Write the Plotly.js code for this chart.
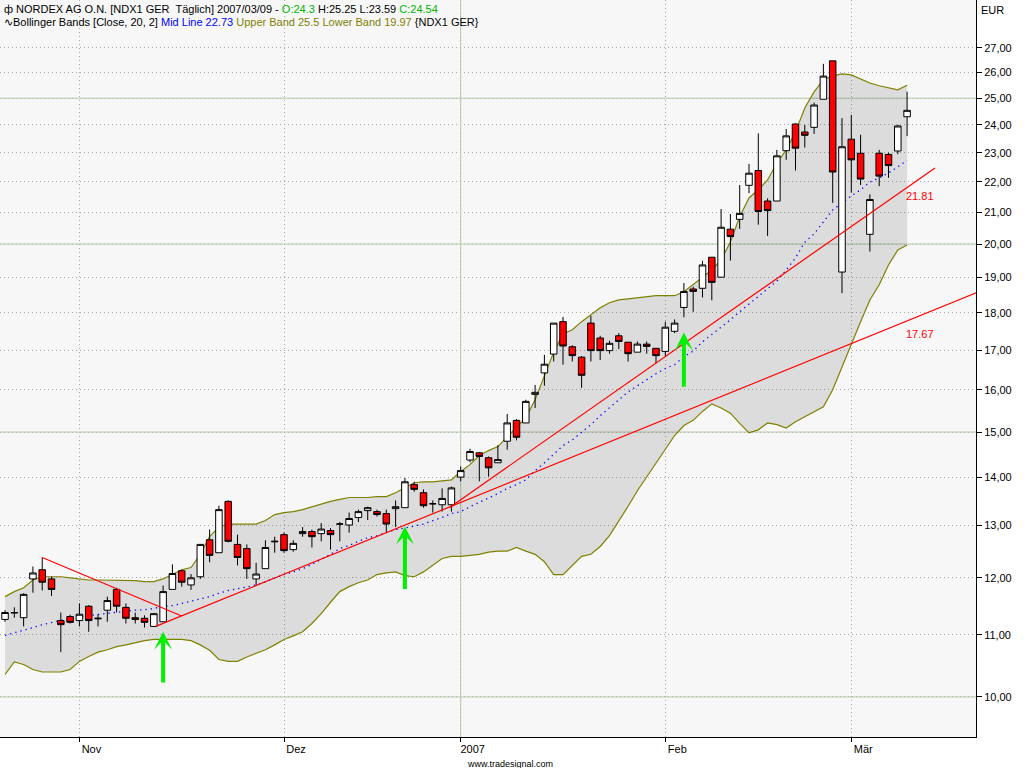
<!DOCTYPE html>
<html><head><meta charset="utf-8">
<script src="https://cdn.plot.ly/plotly-3.0.1.min.js"></script>
<style>html,body{margin:0;padding:0;background:#fff;}#chart{width:1024px;height:768px;}</style>
</head><body><div id="chart"></div>
<script>
const dates = [
'2006-10-20','2006-10-23','2006-10-24','2006-10-25','2006-10-26','2006-10-27','2006-10-30','2006-10-31',
'2006-11-01','2006-11-02','2006-11-03','2006-11-06','2006-11-07','2006-11-08','2006-11-09','2006-11-10',
'2006-11-13','2006-11-14','2006-11-15','2006-11-16','2006-11-17','2006-11-20','2006-11-21','2006-11-22',
'2006-11-23','2006-11-24','2006-11-27','2006-11-28','2006-11-29','2006-11-30',
'2006-12-01','2006-12-04','2006-12-05','2006-12-06','2006-12-07','2006-12-08','2006-12-11','2006-12-12',
'2006-12-13','2006-12-14','2006-12-15','2006-12-18','2006-12-19','2006-12-20','2006-12-21','2006-12-22',
'2006-12-27','2006-12-28','2006-12-29',
'2007-01-02','2007-01-03','2007-01-04','2007-01-05','2007-01-08','2007-01-09','2007-01-10','2007-01-11',
'2007-01-12','2007-01-15','2007-01-16','2007-01-17','2007-01-18','2007-01-19','2007-01-22','2007-01-23',
'2007-01-24','2007-01-25','2007-01-26','2007-01-29','2007-01-30','2007-01-31',
'2007-02-01','2007-02-02','2007-02-05','2007-02-06','2007-02-07','2007-02-08','2007-02-09','2007-02-12',
'2007-02-13','2007-02-14','2007-02-15','2007-02-16','2007-02-19','2007-02-20','2007-02-21','2007-02-22',
'2007-02-23','2007-02-26','2007-02-27','2007-02-28',
'2007-03-01','2007-03-02','2007-03-05','2007-03-06','2007-03-07','2007-03-08','2007-03-09'];

const opens = [11.26,11.37,11.29,11.98,12.15,11.98,11.24,11.31,11.24,11.49,
11.27,11.42,11.79,11.47,11.29,11.28,11.14,11.22,11.79,12.13,
11.87,12.02,12.72,12.47,13.49,12.63,12.55,11.98,12.17,12.68,
12.82,12.53,12.84,12.88,12.84,12.90,13.03,13.01,13.16,13.30,
13.28,13.24,13.34,13.36,13.84,13.67,13.44,13.42,13.42,14.00,
14.37,14.53,14.42,14.31,14.79,15.27,15.21,15.89,16.42,16.90,
17.76,17.09,16.82,17.72,17.32,16.99,17.38,17.21,16.95,17.16,
17.05,16.97,17.50,18.15,18.67,18.69,19.60,19.01,20.46,20.77,
21.88,22.38,21.36,21.36,23.07,24.03,23.74,23.91,24.96,26.47,
19.16,23.48,22.98,20.30,22.98,22.94,23.06,24.3];
const highs = [11.42,11.47,11.72,12.21,12.38,12.02,11.38,11.34,11.54,11.51,
11.35,11.66,11.82,11.54,11.38,11.33,11.37,11.86,12.25,12.15,
12.07,12.63,12.92,13.40,13.51,12.82,12.63,12.28,12.71,12.78,
12.86,12.71,12.97,12.92,13.05,12.95,13.07,13.26,13.32,13.38,
13.32,13.32,13.51,13.98,13.90,13.74,13.51,13.76,13.80,14.23,
14.62,14.55,14.45,14.70,15.42,15.30,15.76,16.12,16.88,17.72,
17.89,17.13,16.85,17.92,17.38,17.25,17.45,17.21,17.23,17.23,
17.05,17.76,17.82,18.84,18.74,19.49,19.60,21.10,20.94,21.89,
22.61,23.69,21.45,23.10,23.85,24.06,24.00,24.83,26.35,26.47,
24.25,24.37,23.64,21.58,23.10,23.00,24.00,25.25];
const lows = [11.22,11.29,11.14,11.73,11.77,11.67,10.71,11.19,11.14,11.05,
11.14,11.22,11.38,11.19,11.19,11.12,11.13,11.22,11.79,11.84,
11.78,11.98,12.29,12.47,12.67,12.23,11.98,11.86,12.17,12.47,
12.47,12.49,12.78,12.57,12.69,12.53,12.69,12.86,13.07,13.11,
13.18,12.86,12.97,13.36,13.69,13.36,13.26,13.28,13.28,13.91,
14.32,13.91,14.01,14.31,14.60,14.81,15.21,15.56,16.10,16.71,
16.63,16.71,16.05,16.71,16.75,16.91,17.03,16.71,16.95,16.91,
16.67,16.84,17.45,17.88,18.03,18.43,18.35,19.01,19.50,20.47,
21.62,20.60,20.25,21.36,22.75,22.38,23.18,23.67,24.96,21.30,
18.55,21.64,21.89,19.77,21.85,22.13,22.95,23.59];
const closes = [11.38,11.38,11.70,12.09,11.92,11.79,11.17,11.21,11.35,11.24,
11.28,11.59,11.49,11.28,11.26,11.21,11.36,11.75,12.08,11.92,
12.00,12.63,12.42,13.32,12.69,12.38,12.17,12.07,12.57,12.69,
12.51,12.65,12.88,12.78,12.93,12.82,13.03,13.14,13.28,13.36,
13.22,13.03,13.38,13.90,13.74,13.40,13.44,13.55,13.77,14.14,
14.56,14.45,14.20,14.38,15.21,14.88,15.72,15.94,16.64,17.72,
17.11,16.86,16.36,16.99,16.99,17.18,17.23,16.91,17.16,17.10,
16.86,17.61,17.72,18.60,18.60,19.37,18.86,20.52,20.23,20.96,
22.29,21.02,21.05,22.89,23.60,23.16,23.62,24.74,25.86,22.33,
23.21,22.75,22.09,21.41,22.19,22.55,23.96,24.54];

const upperBand = [11.66,11.75,11.82,11.96,12.02,12.02,12.02,12.00,11.98,11.96,
11.96,11.96,11.96,11.96,11.95,11.93,11.93,11.98,12.06,12.15,
12.19,12.44,12.78,12.97,13.03,13.03,13.03,13.03,13.10,13.22,
13.26,13.28,13.32,13.38,13.43,13.49,13.53,13.57,13.57,13.57,
13.59,13.59,13.67,13.78,13.88,13.90,13.90,13.92,13.94,14.12,
14.27,14.47,14.58,14.67,14.89,15.09,15.33,15.76,16.37,16.95,
17.43,17.54,17.76,17.94,18.14,18.28,18.36,18.39,18.42,18.45,
18.48,18.48,18.48,18.59,18.79,18.99,19.22,19.52,20.06,20.85,
21.46,21.73,22.06,22.64,23.10,23.74,24.63,25.24,25.71,25.87,
25.95,25.91,25.75,25.59,25.48,25.40,25.32,25.5];
const lowerBand = [10.35,10.55,10.51,10.43,10.39,10.39,10.39,10.43,10.56,10.64,
10.71,10.75,10.80,10.83,10.87,10.90,10.92,10.92,10.92,10.92,
10.90,10.83,10.74,10.59,10.56,10.56,10.63,10.69,10.75,10.83,
10.92,10.98,11.05,11.19,11.36,11.56,11.75,11.84,11.91,11.96,
12.06,12.09,12.11,12.04,12.02,12.11,12.23,12.36,12.40,12.40,
12.42,12.44,12.48,12.50,12.50,12.57,12.50,12.44,12.30,12.06,
12.06,12.23,12.40,12.44,12.59,12.80,13.08,13.39,13.71,14.00,
14.31,14.60,14.92,15.15,15.27,15.48,15.66,15.56,15.44,15.20,
14.98,15.05,15.21,15.17,15.09,15.24,15.36,15.47,15.59,16.00,
16.58,17.14,17.76,18.36,18.79,19.37,19.82,19.97];
const midLine = [10.99,11.03,11.08,11.12,11.17,11.21,11.24,11.28,11.31,11.33,
11.35,11.36,11.38,11.40,11.42,11.43,11.45,11.49,11.50,11.54,
11.58,11.61,11.66,11.72,11.77,11.80,11.84,11.87,11.93,12.00,
12.06,12.11,12.17,12.25,12.34,12.44,12.55,12.61,12.69,12.76,
12.80,12.86,12.92,12.95,12.99,13.03,13.10,13.16,13.24,13.28,
13.38,13.47,13.55,13.65,13.76,13.84,13.94,14.14,14.31,14.49,
14.69,14.82,15.00,15.17,15.38,15.57,15.76,15.95,16.10,16.25,
16.40,16.53,16.63,16.83,16.98,17.22,17.41,17.62,17.81,18.03,
18.25,18.45,18.70,18.90,19.22,19.58,20.06,20.31,20.69,21.07,
21.30,21.53,21.73,21.99,22.13,22.30,22.51,22.73];

const priceTicks = [10,11,12,13,14,15,16,17,18,19,20,21,22,23,24,25,26,27];
const majorLevels = [10,15,20,25];
const monthTickDates = ['2006-11-01','2006-12-01','2007-01-02','2007-02-01','2007-03-01'];
const monthTickLabels = ['Nov','Dez','2007','Feb','Mär'];
const yearStartDate = '2007-01-02';

// trendlines: bar positions (fractional bar index) and prices
const trendDownX = [4, 19],      trendDownY = [12.38, 11.32];
const trendLowX = [16.2, 106],   trendLowY = [11.14, 18.73];
const trendSteepX = [47.85, 100], trendSteepY = [13.37, 22.47];
const trendLabelValues = [21.81, 17.67];

// signal arrows: bar index, tip price, tail price
const arrowBars = [17, 43, 73];
const arrowTip = [11.05, 12.98, 17.47];
const arrowTail = [10.20, 11.77, 16.04];

const FONT = 'Liberation Sans, Arial, sans-serif';
const idx = dates.map((d, i) => i);
const last = dates.length - 1;
const xRange = [-0.54, 104.41];
const yRange = [Math.log10(9.406), Math.log10(29.054)];
const yearIdx = dates.indexOf(yearStartDate);

const traces = [];
majorLevels.forEach(l => traces.push({type:'scatter', mode:'lines', x:[-2, 110], y:[l, l],
  line:{color:'#b6c9aa', width:1}, hoverinfo:'skip', showlegend:false, xaxis:'x', yaxis:'y'}));
traces.push({type:'scatter', mode:'lines', x:[yearIdx, yearIdx], y:[8, 32],
  line:{color:'#b6c9aa', width:1}, hoverinfo:'skip', showlegend:false, xaxis:'x', yaxis:'y'});
traces.push({type:'scatter', mode:'lines', x:idx, y:upperBand, name:'Upper Band',
  line:{color:'#808000', width:1.2}, showlegend:false, xaxis:'x', yaxis:'y'});
traces.push({type:'scatter', mode:'lines', x:idx, y:lowerBand, name:'Lower Band', fill:'tonexty',
  fillcolor:'rgba(0,0,0,0.105)', line:{color:'#808000', width:1.2}, showlegend:false, xaxis:'x', yaxis:'y'});
traces.push({type:'scatter', mode:'lines', x:idx, y:midLine, name:'Mid Line',
  line:{color:'#0000ff', width:1.3, dash:'1.3px,4px'}, showlegend:false, xaxis:'x', yaxis:'y'});

traces.push({type:'candlestick', x:idx, open:opens, high:highs, low:lows, close:closes,
  xaxis:'x2', yaxis:'y2', showlegend:false, whiskerwidth:0,
  increasing:{fillcolor:'#ffffff', line:{color:'#000000', width:1}},
  decreasing:{fillcolor:'#ff0000', line:{color:'#000000', width:1}}});

[[trendDownX, trendDownY],[trendLowX, trendLowY],[trendSteepX, trendSteepY]].forEach(t => traces.push({
  type:'scatter', mode:'lines', x:t[0], y:t[1], line:{color:'#ff0000', width:1.2},
  hoverinfo:'skip', showlegend:false, xaxis:'x2', yaxis:'y2'}));

const annotations = [];
arrowBars.forEach((b, i) => annotations.push({x:b, y:Math.log10(arrowTip[i]), ax:b, ay:Math.log10(arrowTail[i]),
  xref:'x', yref:'y', axref:'x', ayref:'y', showarrow:true, text:'', arrowhead:3, arrowsize:0.75,
  arrowwidth:4, arrowcolor:'#00f000'}));
trendLabelValues.forEach(v => annotations.push({x:last, y:Math.log10(v), xref:'x', yref:'y',
  xanchor:'left', yanchor:'top', xshift:-3, yshift:-1, showarrow:false, text:v.toFixed(2),
  font:{family:FONT, size:11, color:'#ff0000'}}));
const g = s => '<span style="color:#00b400">' + s + '</span>';
annotations.push({xref:'paper', yref:'paper', x:0, y:1, xanchor:'left', yanchor:'top', xshift:2, yshift:-1,
  showarrow:false, align:'left', font:{family:FONT, size:11, color:'#000'},
  text:'ф NORDEX AG O.N. [NDX1 GER\u00a0 Täglich] 2007/03/09 - ' + g('O:' + opens[last]) + ' H:' + highs[last] +
       ' L:' + lows[last] + ' ' + g('C:' + closes[last])});
annotations.push({xref:'paper', yref:'paper', x:0, y:1, xanchor:'left', yanchor:'top', xshift:2, yshift:-14,
  showarrow:false, align:'left', font:{family:FONT, size:11, color:'#000'},
  text:'∿Bollinger Bands [Close, 20, 2] <span style="color:#0000ff">Mid Line ' + midLine[last] +
       '</span> <span style="color:#808000">Upper Band ' + upperBand[last] + ' Lower Band ' + lowerBand[last] +
       '</span> {NDX1 GER}'});
annotations.push({xref:'paper', yref:'paper', x:1, y:1, xanchor:'left', yanchor:'top', xshift:3, yshift:-2,
  showarrow:false, text:'EUR', font:{family:FONT, size:11, color:'#000'}});
annotations.push({xref:'paper', yref:'paper', x:0.523, y:-0.036, xanchor:'center', yanchor:'middle',
  showarrow:false, text:'www.tradesignal.com', borderpad:0, font:{family:FONT, size:9, color:'#000'}});

const layout = {
  width:1024, height:768, margin:{l:0, r:48, t:0, b:31, pad:0},
  paper_bgcolor:'#ffffff', plot_bgcolor:'#f7f7f7', showlegend:false, dragmode:false,
  font:{family:FONT, size:11, color:'#000'},
  xaxis:{range:xRange, tickvals:monthTickDates.map(d => dates.indexOf(d)), ticktext:monthTickLabels,
    showgrid:true, gridcolor:'#a8a8a8', griddash:'1px,3px', gridwidth:1, zeroline:false,
    ticks:'outside', ticklen:4, tickcolor:'#000', ticklabelshift:12, ticklabelstandoff:-2,
    showline:true, linecolor:'#000', linewidth:1, rangeslider:{visible:false},
    tickfont:{family:FONT, size:11, color:'#000'}},
  yaxis:{type:'log', range:yRange, side:'right', tickvals:priceTicks,
    ticktext:priceTicks.map(v => v.toFixed(2).replace('.', ',')),
    showgrid:true, gridcolor:'#a8a8a8', griddash:'1px,3px', gridwidth:1, zeroline:false,
    ticks:'outside', ticklen:5, tickcolor:'#000', showline:true, mirror:true, linecolor:'#000', linewidth:1,
    tickfont:{family:FONT, size:11, color:'#000'}},
  xaxis2:{overlaying:'x', range:xRange, visible:false, rangeslider:{visible:false}, showgrid:false, zeroline:false},
  yaxis2:{overlaying:'y', type:'log', range:yRange, visible:false, side:'right', showgrid:false, zeroline:false},
  boxgap:0.3, boxgroupgap:0,
  annotations:annotations
};
Plotly.newPlot('chart', traces, layout, {staticPlot:true, displayModeBar:false});
</script></body></html>
